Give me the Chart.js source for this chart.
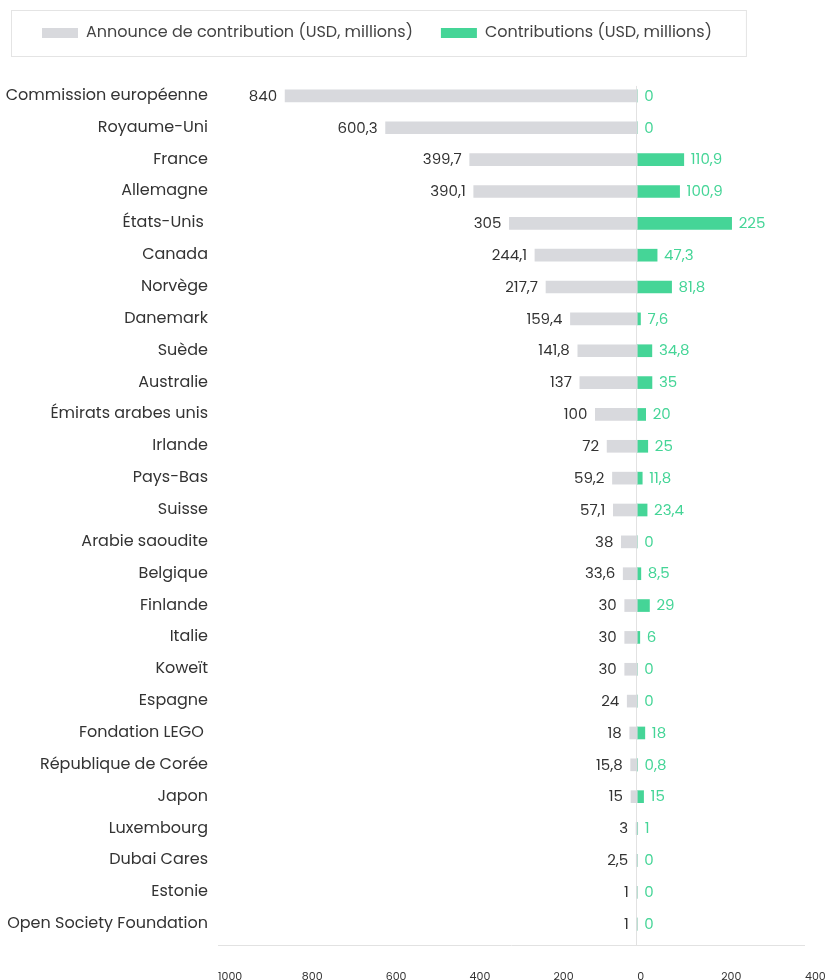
<!DOCTYPE html>
<html>
<head>
<meta charset="utf-8">
<script src="https://cdn.jsdelivr.net/npm/chart.js@4/dist/chart.umd.min.js"></script>
<style>
  html, body { margin: 0; padding: 0; background: #fff; }
  #wrap { width: 827px; height: 980px; }
</style>
</head>
<body>
<div id="wrap"><canvas id="chart"></canvas></div>
<script>
const countries = [
  "Commission européenne", "Royaume-Uni", "France", "Allemagne", "États-Unis ",
  "Canada", "Norvège", "Danemark", "Suède", "Australie",
  "Émirats arabes unis", "Irlande", "Pays-Bas", "Suisse", "Arabie saoudite",
  "Belgique", "Finlande", "Italie", "Koweït", "Espagne",
  "Fondation LEGO ", "République de Corée", "Japon", "Luxembourg", "Dubai Cares",
  "Estonie", "Open Society Foundation"
];
const pledges = [
  840, 600.3, 399.7, 390.1, 305,
  244.1, 217.7, 159.4, 141.8, 137,
  100, 72, 59.2, 57.1, 38,
  33.6, 30, 30, 30, 24,
  18, 15.8, 15, 3, 2.5,
  1, 1
];
const contributions = [
  0, 0, 110.9, 100.9, 225,
  47.3, 81.8, 7.6, 34.8, 35,
  20, 25, 11.8, 23.4, 0,
  8.5, 29, 6, 0, 0,
  18, 0.8, 15, 1, 0,
  0, 0
];
const xTicks = [-1000, -800, -600, -400, -200, 0, 200, 400];

const FONT = "Poppins, 'Noto Sans', sans-serif";
const GRAY = "#d8d9dd";
const GREEN = "#45d597";
const TEXT = "#333333";

const fmt = (v) => String(v).replace(".", ",");

// legend spacing + border box
const legendBox = {
  id: "legendBox",
  beforeInit(chart) {
    const fit = chart.legend.fit;
    chart.legend.fit = function () {
      fit.bind(chart.legend)();
      this.height += 29;
    };
  },
  afterLayout(chart) {
    // long category names run past the axis box on the left, don't clip them
    chart.scales.y._computeLabelArea = () => undefined;
  },
  afterDraw(chart) {
    const boxes = chart.legend.legendHitBoxes;
    if (!boxes || !boxes.length) return;
    const first = boxes[0];
    const last = boxes[boxes.length - 1];
    const ctx = chart.ctx;
    ctx.save();
    ctx.strokeStyle = "#e4e4e4";
    ctx.lineWidth = 1;
    ctx.strokeRect(first.left - 30.5, 10.5, last.left + last.width - first.left + 65, 46);
    ctx.restore();
  },
};

// zero line and bottom axis line
const axisLines = {
  id: "axisLines",
  beforeDatasetsDraw(chart) {
    const { ctx, chartArea, scales } = chart;
    const x0 = Math.round(scales.x.getPixelForValue(0)) - 0.5;
    const yTop = scales.y.getPixelForValue(0) - 10;
    const yBottom = chartArea.bottom + 5.5;
    ctx.save();
    ctx.strokeStyle = "#e2e2e2";
    ctx.lineWidth = 1;
    ctx.beginPath();
    ctx.moveTo(x0, yTop);
    ctx.lineTo(x0, yBottom);
    ctx.moveTo(chartArea.left, yBottom);
    ctx.lineTo(chartArea.right, yBottom);
    ctx.stroke();
    ctx.restore();
  },
};

// value labels at bar ends
const barLabels = {
  id: "barLabels",
  afterDatasetsDraw(chart) {
    const { ctx, scales } = chart;
    ctx.save();
    ctx.font = "15px " + FONT;
    ctx.textBaseline = "middle";
    countries.forEach((c, j) => {
      const y = scales.y.getPixelForValue(j) + 1;
      ctx.fillStyle = TEXT;
      ctx.textAlign = "right";
      ctx.fillText(fmt(pledges[j]), scales.x.getPixelForValue(-pledges[j]) - 8, y);
      ctx.fillStyle = GREEN;
      ctx.textAlign = "left";
      ctx.fillText(fmt(contributions[j]), scales.x.getPixelForValue(contributions[j]) + 7, y);
    });
    ctx.restore();
  },
};

const ctx = document.getElementById("chart");
new Chart(ctx, {
  type: "bar",
  data: {
    labels: countries,
    datasets: [
      {
        label: "Announce de contribution (USD, millions)",
        data: pledges.map((v) => -v),
        backgroundColor: GRAY,
        barThickness: 12,
      },
      {
        label: "Contributions (USD, millions)",
        data: contributions,
        backgroundColor: GREEN,
        barThickness: 12,
      },
    ],
  },
  options: {
    indexAxis: "y",
    responsive: true,
    maintainAspectRatio: false,
    animation: false,
    layout: {
      padding: { left: 14, right: 22, top: -3, bottom: 0 },
    },
    scales: {
      x: {
        stacked: false,
        min: -1000,
        max: 400,
        afterBuildTicks: (axis) => {
          axis.ticks = xTicks.map((v) => ({ value: v }));
        },
        afterFit: (axis) => {
          axis.height = 40;
          axis.paddingLeft = 0;
          axis.paddingRight = 0;
        },
        grid: { display: false, drawTicks: false },
        border: { display: false },
        ticks: {
          align: "start",
          padding: 31,
          color: TEXT,
          font: { family: FONT, size: 11 },
          callback: (v) => Math.abs(v),
          maxRotation: 0,
        },
      },
      y: {
        stacked: true,
        afterFit: (axis) => {
          axis.width = 218 - 14;
        },
        grid: { display: false, drawTicks: false },
        border: { display: false },
        ticks: {
          padding: 10,
          color: TEXT,
          font: { family: FONT, size: 16 },
          autoSkip: false,
        },
      },
    },
    plugins: {
      legend: {
        display: true,
        position: "top",
        align: "start",
        labels: {
          boxWidth: 36,
          boxHeight: 10,
          padding: 28,
          color: "#444444",
          font: { family: FONT, size: 16, lineHeight: 1 },
        },
      },
      tooltip: { enabled: false },
    },
  },
  plugins: [legendBox, axisLines, barLabels],
});
</script>
</body>
</html>
